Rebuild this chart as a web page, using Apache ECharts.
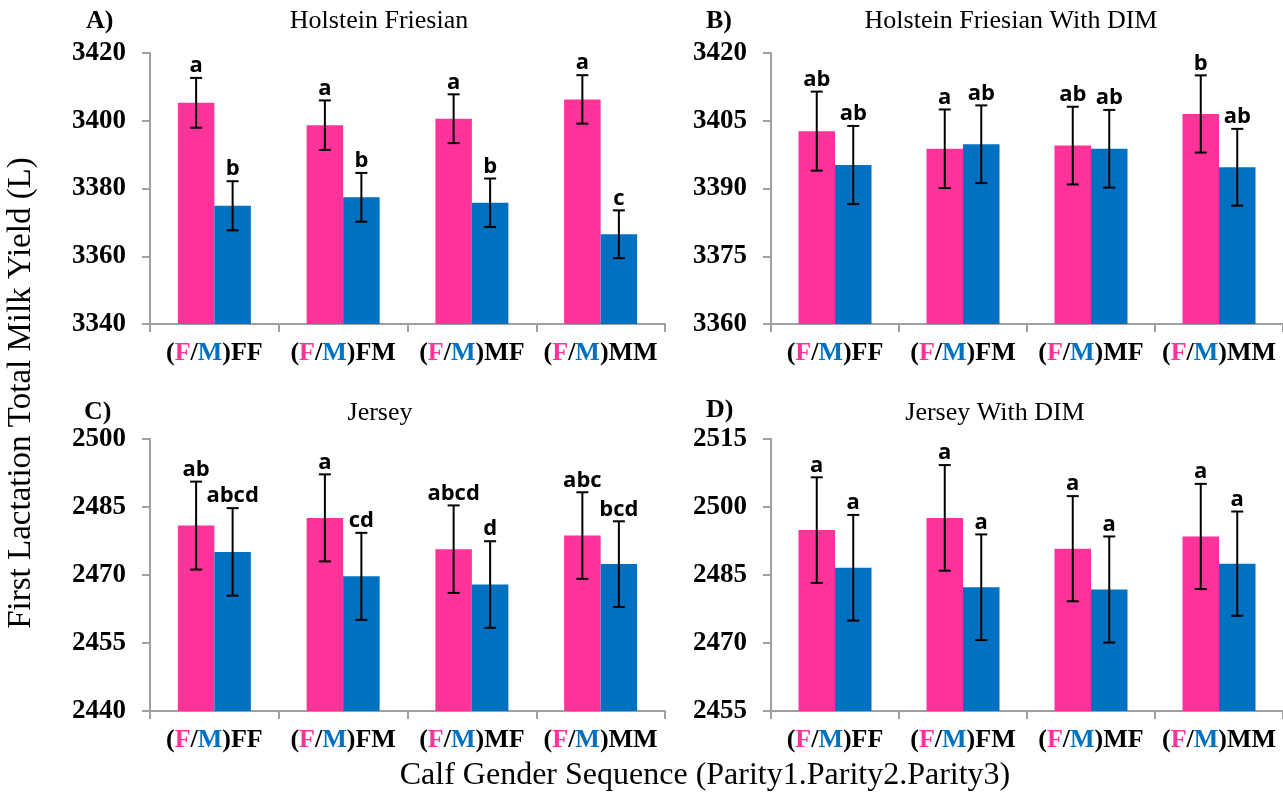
<!DOCTYPE html>
<html>
<head>
<meta charset="utf-8">
<title>First Lactation Total Milk Yield</title>
<script src="https://cdn.jsdelivr.net/npm/echarts@6/dist/echarts.min.js"></script>
<style>
  html, body { margin: 0; padding: 0; background: #ffffff; }
  #chart { width: 1283px; height: 805px; }
</style>
</head>
<body>
<div id="chart"></div>
<script>
// Calf gender sequence groups (parity 1 is F or M, then parity 2 and 3)
const categories = ['(F/M)FF', '(F/M)FM', '(F/M)MF', '(F/M)MM'];

// A) Holstein Friesian
const hfFemale = [3405.3, 3398.7, 3400.6, 3406.3];
const hfFemaleErr = [7.35, 7.3, 7.2, 7.15];
const hfMale = [3374.9, 3377.4, 3375.8, 3366.5];
const hfMaleErr = [7.25, 7.2, 7.15, 7.05];
const hfFemaleLetters = ['a', 'a', 'a', 'a'];
const hfMaleLetters = ['b', 'b', 'b', 'c'];
const hfTicks = [3340, 3360, 3380, 3400, 3420];

// B) Holstein Friesian with DIM
const hfDimFemale = [3402.7, 3398.8, 3399.5, 3406.5];
const hfDimFemaleErr = [8.75, 8.7, 8.6, 8.55];
const hfDimMale = [3395.2, 3399.8, 3398.8, 3394.7];
const hfDimMaleErr = [8.65, 8.6, 8.6, 8.5];
const hfDimFemaleLetters = ['ab', 'a', 'ab', 'b'];
const hfDimMaleLetters = ['ab', 'ab', 'ab', 'ab'];
const hfDimTicks = [3360, 3375, 3390, 3405, 3420];

// C) Jersey
const jFemale = [2480.9, 2482.6, 2475.7, 2478.7];
const jFemaleErr = [9.7, 9.6, 9.65, 9.55];
const jMale = [2475.1, 2469.7, 2467.9, 2472.4];
const jMaleErr = [9.65, 9.6, 9.55, 9.45];
const jFemaleLetters = ['ab', 'a', 'abcd', 'abc'];
const jMaleLetters = ['abcd', 'cd', 'd', 'bcd'];
const jTicks = [2440, 2455, 2470, 2485, 2500];

// D) Jersey with DIM
const jDimFemale = [2494.9, 2497.6, 2490.8, 2493.5];
const jDimFemaleErr = [11.65, 11.65, 11.6, 11.6];
const jDimMale = [2486.6, 2482.3, 2481.8, 2487.5];
const jDimMaleErr = [11.65, 11.65, 11.7, 11.5];
const jDimFemaleLetters = ['a', 'a', 'a', 'a'];
const jDimMaleLetters = ['a', 'a', 'a', 'a'];
const jDimTicks = [2455, 2470, 2485, 2500, 2515];

const PINK = '#FF3399';
const BLUE = '#0070C0';
const AXIS_GRAY = '#A0A0A0';
const SERIF = '"Liberation Serif", "Times New Roman", serif';
const SANS = '"Open Sans", "Liberation Sans", sans-serif';
const BAR_W = 36.5;

const panels = [
  { grid: { left: 150, top: 53, width: 515, height: 271 },
    female: hfFemale, femaleErr: hfFemaleErr, male: hfMale, maleErr: hfMaleErr,
    fl: hfFemaleLetters, ml: hfMaleLetters, ticks: hfTicks },
  { grid: { left: 771, top: 53, width: 513, height: 271 },
    female: hfDimFemale, femaleErr: hfDimFemaleErr, male: hfDimMale, maleErr: hfDimMaleErr,
    fl: hfDimFemaleLetters, ml: hfDimMaleLetters, ticks: hfDimTicks },
  { grid: { left: 150, top: 439, width: 515, height: 272 },
    female: jFemale, femaleErr: jFemaleErr, male: jMale, maleErr: jMaleErr,
    fl: jFemaleLetters, ml: jMaleLetters, ticks: jTicks },
  { grid: { left: 771, top: 439, width: 513, height: 272 },
    female: jDimFemale, femaleErr: jDimFemaleErr, male: jDimMale, maleErr: jDimMaleErr,
    fl: jDimFemaleLetters, ml: jDimMaleLetters, ticks: jDimTicks }
];

// Category label: the leading F is pink, the M is blue, the rest black
function categoryLabel(value) {
  const m = /^\((F)\/(M)\)(.*)$/.exec(value);
  if (!m) return value;
  return '{k|(}{f|F}{k|/}{m|M}{k|)}{k|' + m[3] + '}';
}

const labelRich = {
  k: { color: '#000', fontFamily: SERIF, fontWeight: 'bold', fontSize: 26, lineHeight: 26 },
  f: { color: PINK, fontFamily: SERIF, fontWeight: 'bold', fontSize: 26, lineHeight: 26 },
  m: { color: BLUE, fontFamily: SERIF, fontWeight: 'bold', fontSize: 26, lineHeight: 26 }
};

// Error bar with a significance letter above its upper cap
function errorRenderer(letters, offset) {
  return function (params, api) {
    const cat = api.value(0);
    const top = api.coord([cat, api.value(2)]);
    const bottom = api.coord([cat, api.value(1)]);
    const x = top[0] + offset;
    const half = 6;
    const lineStyle = { stroke: '#000', lineWidth: 2 };
    return {
      type: 'group',
      children: [
        { type: 'line', shape: { x1: x, y1: top[1], x2: x, y2: bottom[1] }, style: lineStyle },
        { type: 'line', shape: { x1: x - half, y1: top[1], x2: x + half, y2: top[1] }, style: lineStyle },
        { type: 'line', shape: { x1: x - half, y1: bottom[1], x2: x + half, y2: bottom[1] }, style: lineStyle },
        { type: 'text', style: {
            text: letters[params.dataIndex], x: x, y: top[1] - 1,
            align: 'center', verticalAlign: 'bottom',
            font: 'bold 22px ' + SANS, fill: '#000'
        } }
      ]
    };
  };
}

const grids = [], xAxes = [], yAxes = [], series = [];
panels.forEach(function (p, i) {
  grids.push(Object.assign({ containLabel: false }, p.grid));
  xAxes.push({
    type: 'category', gridIndex: i, data: categories,
    axisLine: { lineStyle: { color: AXIS_GRAY, width: 2 } },
    axisTick: { show: true, length: 8, lineStyle: { color: AXIS_GRAY, width: 2 } },
    axisLabel: { margin: 16, formatter: categoryLabel, rich: labelRich, interval: 0 },
    splitLine: { show: false }
  });
  yAxes.push({
    type: 'value', gridIndex: i,
    min: p.ticks[0], max: p.ticks[p.ticks.length - 1],
    axisLine: { show: true, lineStyle: { color: AXIS_GRAY, width: 2 } },
    axisTick: { show: true, length: 8, customValues: p.ticks, lineStyle: { color: AXIS_GRAY, width: 2 } },
    axisLabel: { customValues: p.ticks, margin: 24, color: '#000',
      formatter: function (v) { return String(v); },
      fontFamily: SERIF, fontWeight: 'bold', fontSize: 27 },
    splitLine: { show: false }
  });
  series.push({
    type: 'bar', xAxisIndex: i, yAxisIndex: i, data: p.female,
    barWidth: BAR_W, barGap: '0%', itemStyle: { color: PINK }, silent: true
  });
  series.push({
    type: 'bar', xAxisIndex: i, yAxisIndex: i, data: p.male,
    barWidth: BAR_W, barGap: '0%', itemStyle: { color: BLUE }, silent: true
  });
  series.push({
    type: 'custom', xAxisIndex: i, yAxisIndex: i, z: 5, silent: true,
    renderItem: errorRenderer(p.fl, -BAR_W / 2),
    data: p.female.map(function (v, k) { return [k, v - p.femaleErr[k], v + p.femaleErr[k]]; })
  });
  series.push({
    type: 'custom', xAxisIndex: i, yAxisIndex: i, z: 5, silent: true,
    renderItem: errorRenderer(p.ml, BAR_W / 2),
    data: p.male.map(function (v, k) { return [k, v - p.maleErr[k], v + p.maleErr[k]]; })
  });
});

function txt(text, x, y, font, align, rotation) {
  return { type: 'text', x: x, y: y, rotation: rotation || 0, silent: true,
    style: { text: text, font: font, fill: '#000', align: align || 'center', verticalAlign: 'middle' } };
}

const graphics = [
  txt('A)', 86, 21, 'bold 26px ' + SERIF, 'left'),
  txt('Holstein Friesian', 379, 21, '26px ' + SERIF),
  txt('B)', 706, 21, 'bold 26px ' + SERIF, 'left'),
  txt('Holstein Friesian With DIM', 1011, 21, '26px ' + SERIF),
  txt('C)', 84, 412, 'bold 26px ' + SERIF, 'left'),
  txt('Jersey', 380, 413, '26px ' + SERIF),
  txt('D)', 706, 410, 'bold 26px ' + SERIF, 'left'),
  txt('Jersey With DIM', 995, 413, '26px ' + SERIF),
  txt('First Lactation Total Milk Yield (L)', 21, 393, '33px ' + SERIF, 'center', Math.PI / 2),
  txt('Calf Gender Sequence (Parity1.Parity2.Parity3)', 705, 776, '32px ' + SERIF)
];

const chart = echarts.init(document.getElementById('chart'), null, { renderer: 'canvas' });
chart.setOption({
  animation: false,
  backgroundColor: '#ffffff',
  grid: grids,
  xAxis: xAxes,
  yAxis: yAxes,
  series: series,
  graphic: graphics
});
</script>
</body>
</html>
